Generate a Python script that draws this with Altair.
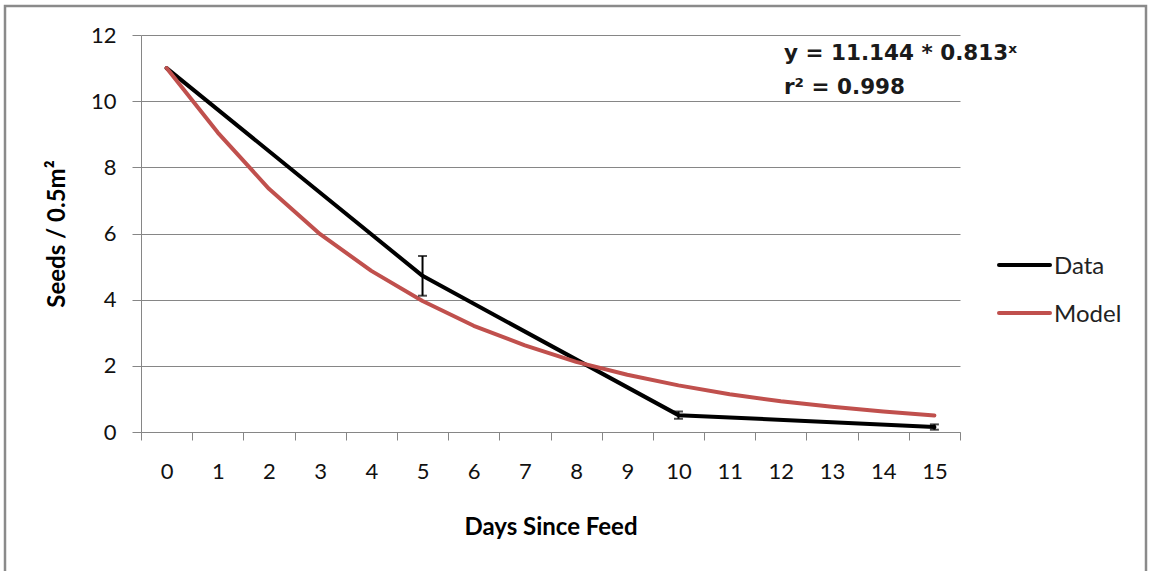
import altair as alt
import pandas as pd

# Observed seed counts and their error ranges
data_days = [0, 5, 10, 15]
data_values = [11.0, 4.72, 0.51, 0.15]
data_err = [0.0, 0.6, 0.11, 0.08]

# Fitted exponential model
model_days = list(range(16))
model_values = [11.0, 9.05, 7.35, 5.98, 4.87, 3.96, 3.21, 2.62,
                2.12, 1.73, 1.41, 1.14, 0.93, 0.76, 0.62, 0.50]

series_names = ["Data", "Model"]
series_colors = ["#000000", "#C0504D"]
y_ticks = [0, 2, 4, 6, 8, 10, 12]

FONT = "Lato"
EQ_FONT = "DejaVu Sans"
GRAY = "#868686"

lines = pd.DataFrame(
    [{"day": d, "value": v, "series": "Data"} for d, v in zip(data_days, data_values)]
    + [{"day": d, "value": v, "series": "Model"} for d, v in zip(model_days, model_values)]
)
errs = pd.DataFrame({
    "day": data_days,
    "lo": [v - e for v, e in zip(data_values, data_err)],
    "hi": [v + e for v, e in zip(data_values, data_err)],
})
errs = errs[[e > 0 for e in data_err]]

x_scale = alt.Scale(domain=model_days, paddingInner=0, paddingOuter=0)
x_enc = alt.X(
    "day:O",
    scale=x_scale,
    axis=alt.Axis(
        title="Days Since Feed",
        labelAngle=0,
        tickBand="extent",
        grid=False,
        tickSize=8,
        labelPadding=21,
        titleX=409.5,
        titleY=102,
        titleBaseline="alphabetic",
    ),
)
y_scale = alt.Scale(domain=[0, 12], nice=False)
y_axis = alt.Axis(
    title="Seeds / 0.5m²",
    values=y_ticks,
    grid=True,
    tickSize=9,
    labelPadding=16,
    titleX=-84,
    titleY=198.5,
    titleAngle=270,
    titleAlign="center",
    titleBaseline="middle",
)

color = alt.Color(
    "series:N",
    scale=alt.Scale(domain=series_names, range=series_colors),
    legend=None,
)

line_layer = alt.Chart(lines).mark_line(strokeWidth=4, strokeJoin="round", strokeCap="round").encode(
    x=x_enc,
    y=alt.Y("value:Q", scale=y_scale, axis=y_axis),
    color=color,
    detail="series:N",
)

err_rule = alt.Chart(errs).mark_rule(color="#000000", strokeWidth=2).encode(
    x=alt.X("day:O", scale=x_scale),
    y=alt.Y("lo:Q", scale=y_scale),
    y2="hi:Q",
)
err_lo = alt.Chart(errs).mark_tick(color="#000000", thickness=2, size=9).encode(
    x=alt.X("day:O"),
    y=alt.Y("lo:Q", scale=y_scale),
)
err_hi = alt.Chart(errs).mark_tick(color="#000000", thickness=2, size=9).encode(
    x=alt.X("day:O"),
    y=alt.Y("hi:Q", scale=y_scale),
)

one = alt.Data(values=[{}])

eq_text = alt.Chart(one).mark_text(
    text="y = 11.144 * 0.813ˣ", font=EQ_FONT, fontSize=21.5, fontWeight="bold",
    align="left", baseline="alphabetic", color="#1a1a1a",
).encode(x=alt.value(643), y=alt.value(25))
r2_text = alt.Chart(one).mark_text(
    text="r² = 0.998", font=EQ_FONT, fontSize=21.5, fontWeight="bold",
    align="left", baseline="alphabetic", color="#1a1a1a",
).encode(x=alt.value(643), y=alt.value(59))

# Legend drawn beside the plot
leg_data = alt.Chart(one).mark_rule(color=series_colors[0], strokeWidth=4, strokeCap="round").encode(
    x=alt.value(858), x2=alt.value(909), y=alt.value(230))
leg_model = alt.Chart(one).mark_rule(color=series_colors[1], strokeWidth=4, strokeCap="round").encode(
    x=alt.value(858), x2=alt.value(909), y=alt.value(278))
leg_data_txt = alt.Chart(one).mark_text(
    text=series_names[0], font=FONT, fontSize=24, align="left", baseline="alphabetic", color="#222222",
).encode(x=alt.value(913), y=alt.value(239))
leg_model_txt = alt.Chart(one).mark_text(
    text=series_names[1], font=FONT, fontSize=24, align="left", baseline="alphabetic", color="#222222",
).encode(x=alt.value(913), y=alt.value(287))

frame = alt.Chart(one).mark_rect(fill="transparent", stroke="#8a8a8a", strokeWidth=2.5).encode(
    x=alt.value(-136), x2=alt.value(1005), y=alt.value(-29), y2=alt.value(545))

chart = alt.layer(
    frame, line_layer, err_rule, err_lo, err_hi,
    eq_text, r2_text, leg_data, leg_model, leg_data_txt, leg_model_txt,
).properties(
    width=819,
    height=397,
    autosize=alt.AutoSizeParams(type="none"),
    padding={"left": 141, "top": 35, "right": 190, "bottom": 139},
    background="white",
).configure_view(
    strokeWidth=0,
).configure_axis(
    labelFont=FONT,
    labelFontSize=22,
    labelColor="#111111",
    titleFont=FONT,
    titleFontSize=24,
    titleFontWeight="bold",
    titleColor="#000000",
    domainColor=GRAY,
    domainWidth=1,
    tickColor=GRAY,
    tickWidth=1,
    gridColor=GRAY,
    gridWidth=1,
)

chart.save("out.html", embed_options={"renderer": "svg", "actions": False})
